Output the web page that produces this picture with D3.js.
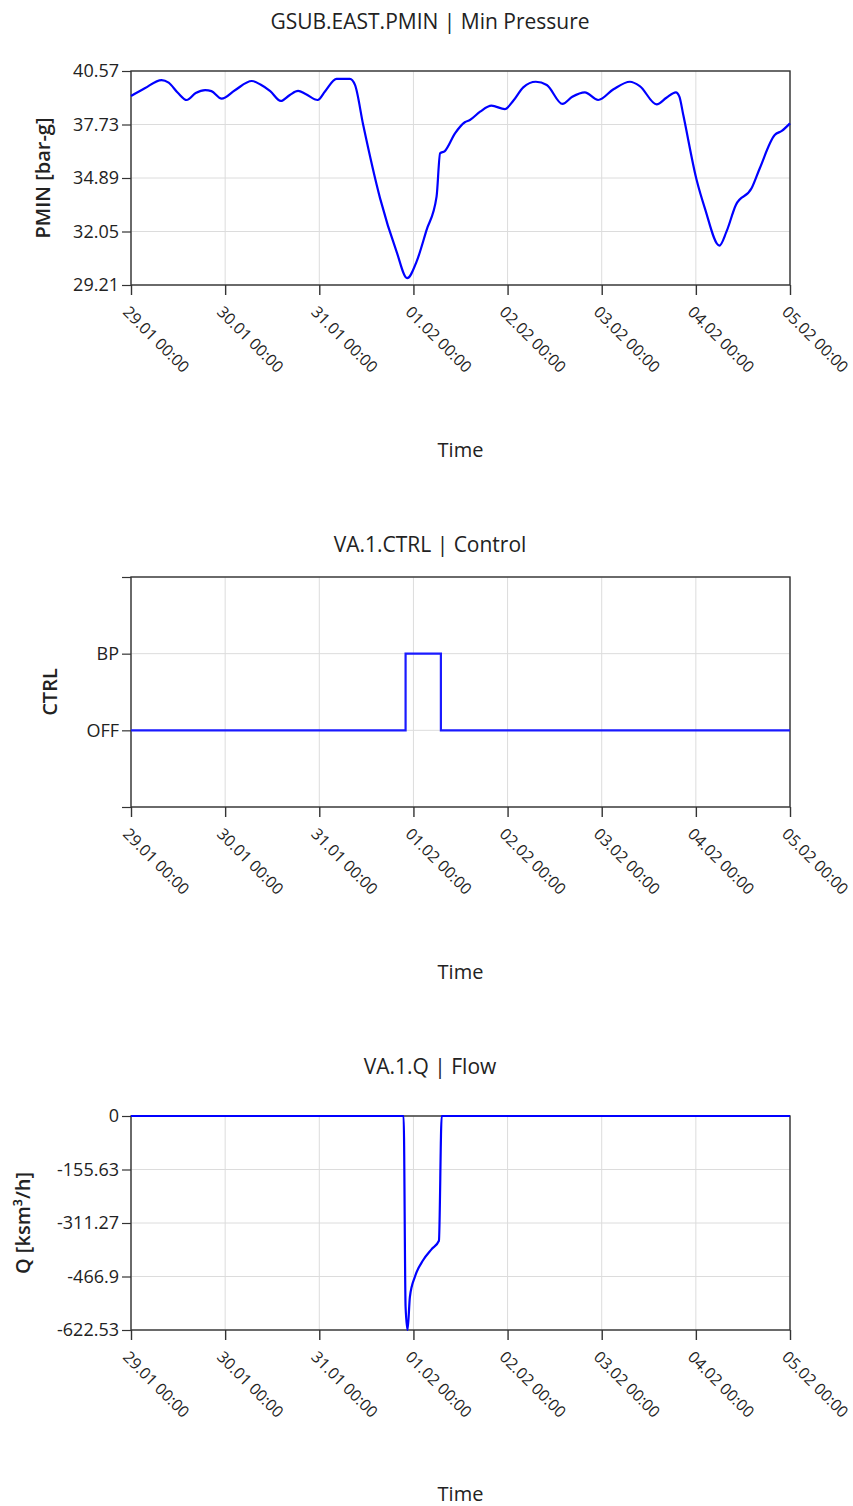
<!DOCTYPE html>
<html>
<head>
<meta charset="utf-8">
<script src="https://cdn.jsdelivr.net/npm/d3@7"></script>
<style>
  html, body { margin: 0; padding: 0; background: #fff; }
  svg { display: block; }
  text { font-family: "Open Sans", "Noto Sans", sans-serif; fill: #222; }
</style>
</head>
<body>
<svg id="chart" width="853" height="1506"></svg>
<script>
// ---------- DATA ----------
const startTime = "2024-01-29T00:00:00";
const endHours = 168;

// Chart 1: GSUB.EAST.PMIN (hours since 29.01 00:00, bar-g)
const pminHours = [0, 3.5, 7.8, 9.6, 12, 14.2, 16.5, 18.9, 20.5, 23.1, 26.5, 30.8, 33, 35.5, 38.2, 40.5, 42.6, 44.5, 47.6, 49.5, 52.4, 55.8, 57.1, 59.2, 63.5, 67.7, 70.4, 72.8, 75.3, 77.9, 78.8, 80.0, 82.6, 85.1, 86.4, 89.0, 91.9, 95.3, 97.5, 100.0, 103.2, 106, 110, 112.5, 115.7, 119.1, 123, 127.2, 129.7, 134, 136.5, 138.9, 139.8, 140.8, 144.2, 146.3, 150, 151.8, 154.2, 158.2, 160.3, 164.1, 165.9, 168];
const pminValues = [39.24, 39.65, 40.09, 39.95, 39.4, 39.03, 39.4, 39.56, 39.5, 39.10, 39.55, 40.04, 39.85, 39.5, 38.98, 39.3, 39.51, 39.35, 39.03, 39.5, 40.15, 40.15, 39.83, 37.70, 33.81, 30.98, 29.57, 30.45, 32.1, 33.9, 36.2, 36.32, 37.26, 37.85, 37.97, 38.41, 38.73, 38.55, 39.0, 39.70, 40.0, 39.83, 38.82, 39.2, 39.44, 39.03, 39.6, 40.0, 39.77, 38.8, 39.15, 39.44, 39.21, 38.23, 34.78, 33.28, 31.30, 32.04, 33.46, 34.34, 35.41, 37.17, 37.39, 37.79];
const pminTicks = [29.21, 32.05, 34.89, 37.73, 40.57];

// Chart 2: VA.1.CTRL (step)
const ctrlLevels = ["", "OFF", "BP", ""];
const ctrlHours = [0, 70, 79, 168];
const ctrlStates = ["OFF", "BP", "OFF", "OFF"];

// Chart 3: VA.1.Q (ksm3/h)
const qHours = [0, 69.5, 70.0, 70.5, 71.1, 72.4, 74.5, 76.6, 78.5, 79.2, 168];
const qValues = [0, 0, -555, -622.53, -526, -467, -419, -388, -363, 0, 0];
const qTicks = [0, -155.63, -311.27, -466.9, -622.53];

const titles = ["GSUB.EAST.PMIN | Min Pressure", "VA.1.CTRL | Control", "VA.1.Q | Flow"];
const yLabels = ["PMIN [bar-g]", "CTRL", "Q [ksm³/h]"];
const xLabel = "Time";

// ---------- DRAW ----------
const svg = d3.select("#chart");
const t0 = new Date(startTime);
const toDate = h => d3.timeMinute.offset(t0, Math.round(h * 60));
const left = 131, right = 790;
const x = d3.scaleTime().domain([t0, toDate(endHours)]).range([left, right]);
const xTickValues = d3.range(0, 8).map(d => d3.timeDay.offset(t0, d));
const fmt = d3.timeFormat("%d.%m %H:%M");

const panels = [
  { top: 71, bottom: 285, titleY: 29, timeY: 457, yLabX: 42 },
  { top: 577, bottom: 807, titleY: 552, timeY: 979, yLabX: 49 },
  { top: 1116, bottom: 1330, titleY: 1074, timeY: 1501, yLabX: 22 }
];

function drawFrame(i, y, yTicks, yFmt) {
  const p = panels[i];
  const g = svg.append("g");
  // grid
  g.append("g").selectAll("line.vg").data(xTickValues).join("line")
    .attr("x1", d => x(d)).attr("x2", d => x(d))
    .attr("y1", p.top).attr("y2", p.bottom)
    .attr("stroke", "#dcdcdc").attr("stroke-width", 1);
  g.append("g").selectAll("line.hg").data(yTicks).join("line")
    .attr("x1", left).attr("x2", right)
    .attr("y1", d => y(d)).attr("y2", d => y(d))
    .attr("stroke", "#dcdcdc").attr("stroke-width", 1);
  // x axis
  const xa = g.append("g").attr("transform", `translate(0,${p.bottom})`)
    .call(d3.axisBottom(x).tickValues(xTickValues).tickSize(10).tickFormat(""));
  xa.select(".domain").remove();
  xa.selectAll(".tick line").attr("stroke", "#333").attr("stroke-width", 1.4);
  g.append("g").selectAll("text").data(xTickValues).join("text")
    .attr("transform", d => `translate(${x(d) - 1},${p.bottom + 20}) rotate(45)`)
    .attr("dy", "0.71em")
    .attr("text-anchor", "start")
    .style("font-size", "16px")
    .text(d => fmt(d));
  // y axis
  const ya = g.append("g").attr("transform", `translate(${left},0)`)
    .call(d3.axisLeft(y).tickValues(yTicks).tickSize(9).tickPadding(3).tickFormat(yFmt));
  ya.select(".domain").remove();
  ya.selectAll(".tick line").attr("stroke", "#333").attr("stroke-width", 1.2);
  ya.selectAll(".tick text").style("font-size", "18px").style("font-family", '"Open Sans", sans-serif').attr("fill", "#222");
  // border
  g.append("rect").attr("x", left).attr("y", p.top).attr("width", right - left).attr("height", p.bottom - p.top)
    .attr("fill", "none").attr("stroke", "#333").attr("stroke-width", 1.4);
  // titles
  svg.append("text").attr("x", 430).attr("y", p.titleY).attr("text-anchor", "middle")
    .style("font-size", "21px").text(titles[i]);
  svg.append("text").attr("x", (left + right) / 2).attr("y", p.timeY).attr("text-anchor", "middle")
    .style("font-size", "20px").text(xLabel);
  svg.append("text").attr("transform", `translate(${p.yLabX},${(p.top + p.bottom) / 2}) rotate(-90)`)
    .attr("text-anchor", "middle").attr("dominant-baseline", "central")
    .style("font-size", "20px").style("font-weight", "600").text(yLabels[i]);
  return g;
}

// Chart 1
{
  const p = panels[0];
  const y = d3.scaleLinear().domain([29.21, 40.57]).range([p.bottom, p.top]);
  drawFrame(0, y, pminTicks, d => d3.format(".2f")(d));
  const data = pminHours.map((h, k) => [toDate(h), pminValues[k]]);
  svg.append("path").datum(data)
    .attr("fill", "none").attr("stroke", "#0000ff").attr("stroke-width", 2.2)
    .attr("stroke-linejoin", "round")
    .attr("d", d3.line().x(d => x(d[0])).y(d => y(d[1])).curve(d3.curveMonotoneX));
}

// Chart 2
{
  const p = panels[1];
  const y = d3.scalePoint().domain(ctrlLevels.map((d, k) => k)).range([p.bottom, p.top]);
  const idx = s => ctrlLevels.indexOf(s);
  drawFrame(1, y, [0, 1, 2, 3], k => ctrlLevels[k]);
  const data = ctrlHours.map((h, k) => [toDate(h), idx(ctrlStates[k])]);
  svg.append("path").datum(data)
    .attr("fill", "none").attr("stroke", "#1a1aff").attr("stroke-width", 2.2)
    .attr("d", d3.line().x(d => x(d[0])).y(d => y(d[1])).curve(d3.curveStepAfter));
}

// Chart 3
{
  const p = panels[2];
  const y = d3.scaleLinear().domain([-622.53, 0]).range([p.bottom, p.top]);
  drawFrame(2, y, qTicks, d => String(d));
  const data = qHours.map((h, k) => [toDate(h), qValues[k]]);
  svg.append("path").datum(data)
    .attr("fill", "none").attr("stroke", "#0000ff").attr("stroke-width", 2.2)
    .attr("stroke-linejoin", "round")
    .attr("d", d3.line().x(d => x(d[0])).y(d => y(d[1])).curve(d3.curveMonotoneX));
}
</script>
</body>
</html>
